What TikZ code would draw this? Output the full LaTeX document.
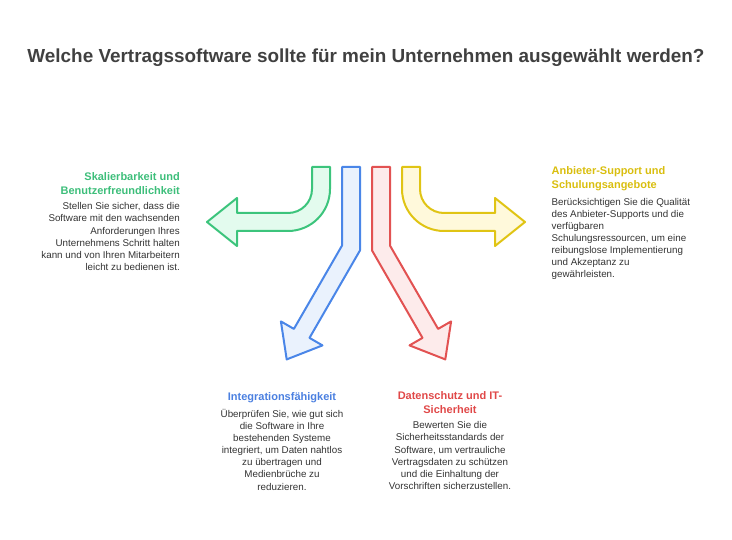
\documentclass[tikz,border=0pt]{standalone}
\usepackage{fontspec}
\setmainfont{Liberation Sans}
\definecolor{gstroke}{RGB}{60,196,124}
\definecolor{gfill}{RGB}{227,251,238}
\definecolor{bstroke}{RGB}{74,134,232}
\definecolor{bfill}{RGB}{234,242,253}
\definecolor{rstroke}{RGB}{226,82,82}
\definecolor{rfill}{RGB}{253,235,235}
\definecolor{ystroke}{RGB}{224,196,20}
\definecolor{yfill}{RGB}{255,249,219}
\definecolor{gtext}{RGB}{61,190,122}
\definecolor{btext}{RGB}{74,127,224}
\definecolor{rtext}{RGB}{224,72,72}
\definecolor{ytext}{RGB}{217,190,15}
\definecolor{bodytext}{RGB}{51,51,51}
\definecolor{titletext}{RGB}{64,64,64}
\begin{document}
\begin{tikzpicture}[x=1pt,y=-1pt,
  arrowshape/.style={line width=2pt,line join=round},
  head/.style={inner sep=0pt,font=\bfseries\fontsize{11}{14.3}\selectfont},
  body/.style={inner sep=0pt,text=bodytext,font=\fontsize{9.8}{12.1}\selectfont}]
\useasboundingbox (0,0) rectangle (732,540);
\node[inner sep=0pt,text=titletext,font=\bfseries\fontsize{18.9}{22}\selectfont] (title) at (366,58) {Welche Vertragssoftware sollte für mein Unternehmen ausgewählt werden?};
% green arrow
\draw[arrowshape,draw=gstroke,fill=gfill] (312,167) -- (312,189) .. controls (312,202.3) and (301.3,213) .. (288,213) -- (237,213) -- (237,198) -- (207,222) -- (237,246) -- (237,231) -- (288,231) .. controls (311.2,231) and (330,212.2) .. (330,189) -- (330,167) -- cycle;
% yellow arrow
\draw[arrowshape,draw=ystroke,fill=yfill] (420,167) -- (420,189) .. controls (420,202.3) and (430.7,213) .. (444,213) -- (495,213) -- (495,198) -- (525,222) -- (495,246) -- (495,231) -- (444,231) .. controls (420.8,231) and (402,212.2) .. (402,189) -- (402,167) -- cycle;
% blue arrow
\draw[arrowshape,draw=bstroke,fill=bfill] (342,167) -- (342,245.6) -- (293.9,328.9) -- (280.9,321.4) -- (286.7,359.4) -- (322.5,345.4) -- (309.5,337.9) -- (360,250.4) -- (360,167) -- cycle;
% red arrow
\draw[arrowshape,draw=rstroke,fill=rfill] (390,167) -- (390,245.6) -- (438.1,328.9) -- (451.1,321.4) -- (445.3,359.4) -- (409.5,345.4) -- (422.5,337.9) -- (372,250.4) -- (372,167) -- cycle;
% green text
\node[head,text=gtext,anchor=north east,align=right] (gh) at (180,172) {Skalierbarkeit und\\Benutzerfreundlichkeit};
\node[body,anchor=north east,align=right] (gb) at (180,202.5) {Stellen Sie sicher, dass die\\Software mit den wachsenden\\Anforderungen Ihres\\Unternehmens Schritt halten\\kann und von Ihren Mitarbeitern\\leicht zu bedienen ist.};
% yellow text
\node[head,text=ytext,anchor=north west,align=left] (yh) at (551.5,166) {Anbieter-Support und\\Schulungsangebote};
\node[body,anchor=north west,align=left] (yb) at (551.5,198) {Berücksichtigen Sie die Qualität\\des Anbieter-Supports und die\\verfügbaren\\Schulungsressourcen, um eine\\reibungslose Implementierung\\und Akzeptanz zu\\gewährleisten.};
% blue text
\node[head,text=btext,anchor=north,align=center] (bh) at (282,392) {Integrationsfähigkeit};
\node[body,anchor=north,align=center] (bb) at (282,409) {Überprüfen Sie, wie gut sich\\die Software in Ihre\\bestehenden Systeme\\integriert, um Daten nahtlos\\zu übertragen und\\Medienbrüche zu\\reduzieren.};
% red text
\node[head,text=rtext,anchor=north,align=center] (rh) at (450,391) {Datenschutz und IT-\\Sicherheit};
\node[body,anchor=north,align=center] (rb) at (450,421.5) {Bewerten Sie die\\Sicherheitsstandards der\\Software, um vertrauliche\\Vertragsdaten zu schützen\\und die Einhaltung der\\Vorschriften sicherzustellen.};
\end{tikzpicture}
\end{document}
